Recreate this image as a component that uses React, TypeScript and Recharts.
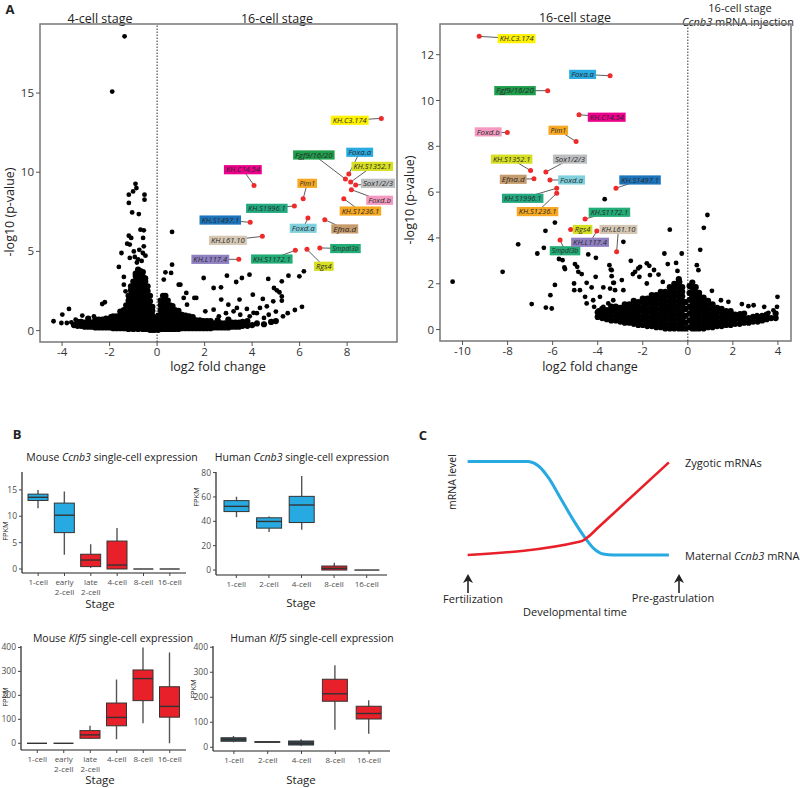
import React from 'react';
import {
  ScatterChart,
  Scatter,
  XAxis,
  YAxis,
  ReferenceLine,
  ReferenceArea,
  ComposedChart,
  Bar,
  LineChart,
  Line,
} from 'recharts';

const FONT = '"Open Sans", "Noto Sans", Arial, sans-serif';
const BLUE = '#27aae1';
const RED = '#e8202a';
const FLAT = '#555555';
const SLATE = '#2f4b57';

// ---------- Panel A: labelled genes ----------
const geneNames = [
  'KH.C3.174', 'Fgf9/16/20', 'Foxa.a', 'KH.S1352.1', 'Sox1/2/3', 'Foxd.b',
  'KH.S1236.1', 'Pim1', 'KH.C14.54', 'KH.S1996.1', 'Foxd.a', 'Efna.d',
  'KH.S1497.1', 'KH.L61.10', 'Smpdl3b', 'KH.S1172.1', 'Rgs4', 'KH.L117.4',
];
const geneColors = [
  '#fff200', '#1e9d4b', '#29abe2', '#d7df23', '#bcbec0', '#f49ac1',
  '#f7a823', '#f7a823', '#ec008c', '#22a97f', '#7fd1de', '#c69c6d',
  '#1c75bc', '#d5c7b3', '#22ad76', '#22ad76', '#d7df23', '#8f80c2',
];

// 4-cell vs 16-cell: highlighted genes (point, label position)
const leftHits: [number, number][] = [
  [9.44, 13.4], [7.93, 9.57], [8.07, 9.89], [8.15, 9.38], [8.36, 9.19], [8.18, 8.9],
  [7.86, 8.33], [6.15, 8.33], [4.08, 9.17], [5.78, 7.87], [6.35, 7.11], [7.06, 7.0],
  [3.92, 6.84], [4.43, 5.95], [6.85, 5.22], [5.82, 5.07], [6.31, 5.13], [3.44, 4.5],
];
const leftTags: [number, number][] = [
  [8.11, 13.28], [6.6, 11.09], [8.53, 11.26], [9.06, 10.37], [9.3, 9.3], [9.37, 8.23],
  [8.56, 7.55], [6.32, 9.3], [3.61, 10.16], [4.62, 7.72], [6.15, 6.46], [7.9, 6.42],
  [2.66, 6.98], [2.98, 5.7], [7.93, 5.18], [4.83, 4.52], [7.02, 4.06], [2.24, 4.5],
];

// 16-cell vs Ccnb3 injection: highlighted genes
const rightHits: [number, number][] = [
  [-9.26, 12.8], [-6.22, 10.43], [-3.45, 11.08], [-6.98, 6.94], [-6.3, 6.88], [-8.01, 8.6],
  [-5.82, 5.95], [-4.96, 8.21], [-4.83, 9.38], [-5.82, 6.17], [-6.12, 6.53], [-6.83, 6.58],
  [-3.19, 6.17], [-3.16, 3.4], [-5.67, 3.91], [-4.56, 4.83], [-5.2, 4.37], [-4.04, 4.3],
];
const rightTags: [number, number][] = [
  [-7.6, 12.7], [-7.67, 10.43], [-4.67, 11.14], [-7.82, 7.44], [-5.23, 7.44], [-8.86, 8.63],
  [-6.67, 5.15], [-5.75, 8.7], [-3.6, 9.27], [-7.33, 5.73], [-5.16, 6.53], [-7.75, 6.56],
  [-2.12, 6.53], [-3.08, 4.37], [-5.45, 3.44], [-3.48, 5.12], [-4.67, 4.37], [-4.34, 3.81],
];

// other genes, scattered points
const leftOutliers: [number, number][] = [
  [-1.37, 18.58], [-1.89, 15.09],
  [-0.91, 9.27], [-0.87, 9.0], [-1.01, 8.79], [-1.19, 8.58], [-0.53, 8.58], [-0.53, 8.27],
  [-1.19, 8.06], [-1.05, 7.46], [-0.77, 7.36], [-0.7, 6.37], [-0.56, 6.33], [-0.59, 5.85],
  [-1.19, 5.99], [-1.09, 5.85], [-1.15, 5.43], [-1.26, 5.49], [-1.5, 4.9], [-1.61, 4.02],
  [-1.4, 3.39], [-1.4, 2.9], [-1.33, 2.48], [-1.15, 4.59], [-0.98, 5.0], [-0.94, 4.65],
  [-0.56, 5.32], [-0.49, 4.73], [-0.8, 4.5], [-0.65, 4.4], [-0.75, 5.1], [-0.6, 4.9], [-0.85, 4.3],
  [-2.31, 1.68], [-2.2, 1.79], [-3.71, 1.37], [-3.99, 1.01], [-4.36, 0.59], [-4.03, 0.48],
  [-3.8, 0.48], [-3.61, 0.52], [-3.43, 0.69], [-3.15, 0.95], [-2.66, 0.9], [-1.96, 0.9],
  [0.63, 6.23], [0.63, 4.16], [0.35, 3.68], [0.59, 3.64], [0.28, 3.22], [0.91, 2.9],
  [1.65, 2.06], [1.26, 1.64], [1.57, 2.06], [1.12, 2.06], [0.98, 2.9], [1.23, 2.38],
  [1.96, 3.32], [2.94, 3.47], [3.33, 3.07], [3.57, 3.32], [3.89, 3.53], [2.38, 2.69],
  [2.69, 2.73], [2.7, 1.96], [3.47, 1.96], [4.03, 2.27], [4.68, 3.26], [5.25, 3.11],
  [5.53, 3.47], [5.99, 3.43], [6.18, 3.74], [4.92, 2.69], [5.04, 2.54], [5.15, 2.42],
  [5.25, 2.16], [4.89, 1.85], [5.25, 1.89], [4.45, 2.0], [4.33, 1.43], [4.06, 1.12],
  [4.62, 1.53], [3.0, 1.64], [3.22, 1.22], [3.36, 1.43], [3.78, 1.37], [2.38, 1.32],
  [2.03, 1.22], [3.9, 0.9], [4.2, 1.1], [4.5, 0.8], [4.7, 1.0], [5.0, 1.2], [5.3, 0.9],
  [5.5, 1.1], [5.8, 1.3], [6.1, 1.5], [3.5, 1.0], [2.9, 1.1], [2.6, 0.9],
];

// dense mass of genes near the origin, read column by column
const leftMassColumns: [number, number[]][] = [
  [-3.5, [0.35]], [-3.35, [0.3, 0.55]], [-3.2, [0.3, 0.55]], [-3.05, [0.25, 0.5]],
  [-2.9, [0.25, 0.5, 0.75]], [-2.75, [0.25, 0.5]], [-2.6, [0.2, 0.45, 0.7]],
  [-2.45, [0.2, 0.45, 0.7]], [-2.3, [0.2, 0.45, 0.7]], [-2.15, [0.2, 0.45, 0.75]],
  [-2.0, [0.2, 0.45, 0.7]], [-1.85, [0.15, 0.4, 0.65, 0.9]], [-1.7, [0.15, 0.4, 0.65, 0.9]],
  [-1.55, [0.15, 0.4, 0.65, 0.9, 1.2]], [-1.4, [0.15, 0.4, 0.7, 1.0, 1.3]],
  [-1.3, [0.15, 0.45, 0.75, 1.05, 1.35, 1.6]],
  [-1.2, [0.1, 0.4, 0.7, 1.0, 1.3, 1.6, 1.9, 2.2]],
  [-1.1, [0.15, 0.45, 0.75, 1.05, 1.35, 1.65, 1.95, 2.25, 2.55, 2.8]],
  [-1.0, [0.1, 0.4, 0.7, 1.0, 1.3, 1.6, 1.9, 2.2, 2.5, 2.8, 3.1]],
  [-0.9, [0.15, 0.45, 0.75, 1.05, 1.35, 1.65, 1.95, 2.25, 2.55, 2.85, 3.15, 3.45, 3.6]],
  [-0.8, [0.1, 0.4, 0.7, 1.0, 1.3, 1.6, 1.9, 2.2, 2.5, 2.8, 3.1, 3.4, 3.7, 3.85]],
  [-0.7, [0.15, 0.45, 0.75, 1.05, 1.35, 1.65, 1.95, 2.25, 2.55, 2.85, 3.15, 3.45, 3.75]],
  [-0.6, [0.1, 0.4, 0.7, 1.0, 1.3, 1.6, 1.9, 2.2, 2.5, 2.8, 3.1, 3.4, 3.7]],
  [-0.5, [0.1, 0.4, 0.7, 1.0, 1.3, 1.6, 1.9, 2.2, 2.5, 2.8, 3.1, 3.3]],
  [-0.4, [0.1, 0.4, 0.7, 1.0, 1.3, 1.6, 1.9, 2.2, 2.5, 2.8]],
  [-0.3, [0.05, 0.35, 0.65, 0.95, 1.25, 1.55, 1.85, 2.2]],
  [-0.2, [0.05, 0.35, 0.65, 0.95, 1.25, 1.5]],
  [-0.1, [0.05, 0.3, 0.55, 0.8]],
  [0.05, [0.05, 0.35, 0.65, 0.95]],
  [0.15, [0.1, 0.4, 0.7, 1.0, 1.3, 1.6, 1.9]],
  [0.25, [0.1, 0.4, 0.7, 1.0, 1.3, 1.6, 1.9, 2.2]],
  [0.35, [0.1, 0.4, 0.7, 1.0, 1.3, 1.6, 1.9, 2.2]],
  [0.45, [0.1, 0.4, 0.7, 1.0, 1.3, 1.6, 1.9]],
  [0.55, [0.1, 0.4, 0.7, 1.0, 1.3, 1.6]],
  [0.65, [0.1, 0.4, 0.7, 1.0, 1.3, 1.55]],
  [0.75, [0.1, 0.4, 0.7, 1.0, 1.3]],
  [0.9, [0.1, 0.4, 0.7, 1.0, 1.25]],
  [1.05, [0.15, 0.4, 0.7, 1.0]],
  [1.2, [0.15, 0.4, 0.7, 0.95]],
  [1.35, [0.15, 0.4, 0.7, 0.9]],
  [1.5, [0.15, 0.4, 0.65, 0.85]],
  [1.65, [0.15, 0.4, 0.65]], [1.8, [0.15, 0.4, 0.65]], [1.95, [0.15, 0.4, 0.6]],
  [2.1, [0.15, 0.4, 0.6]], [2.25, [0.15, 0.4, 0.6]], [2.4, [0.2, 0.45]],
  [2.55, [0.2, 0.45, 0.65]], [2.7, [0.2, 0.45]], [2.85, [0.2, 0.45]], [3.0, [0.2, 0.45, 0.7]],
  [3.15, [0.25, 0.5]], [3.3, [0.25, 0.5]], [3.45, [0.25, 0.5]], [3.6, [0.3, 0.55]],
  [3.8, [0.3, 0.6]], [4.0, [0.35]], [4.2, [0.45]], [4.5, [0.4]], [4.8, [0.55]], [5.0, [0.6]],
];

const rightOutliers: [number, number][] = [
  [-10.44, 2.09], [-8.22, 2.52], [-6.93, 1.11], [-7.53, 3.72], [-6.68, 3.32], [-6.39, 3.57],
  [-6.32, 4.31], [-5.9, 4.67], [-5.9, 1.95], [-6.1, 1.5], [-6.3, 0.96], [-6.04, 0.92],
  [-3.69, 5.69], [-2.86, 3.83], [-0.8, 4.36], [-1.04, 3.32], [0.87, 5.0], [0.71, 4.44],
  [0.55, 3.48], [-5.72, 3.08], [-5.56, 3.03], [-5.48, 2.71], [-5.45, 2.64], [-5.01, 2.86],
  [-4.91, 2.74], [-4.86, 2.52], [-4.71, 2.42], [-4.42, 3.28], [-4.08, 3.13], [-4.49, 2.04],
  [-5.05, 2.01], [-5.04, 1.72], [-4.79, 1.72], [-4.56, 1.43], [-4.27, 1.84], [-4.09, 2.3],
  [-3.9, 1.43], [-3.75, 1.84], [-3.48, 2.81], [-3.42, 2.62], [-3.38, 2.33], [-3.31, 2.04],
  [-3.23, 1.72], [-4.49, 1.14], [-4.2, 1.28], [-4.16, 0.99], [-3.97, 0.84], [-3.75, 0.99],
  [-3.53, 1.14], [-3.6, 0.77], [-3.31, 1.28], [-3.16, 0.84], [-0.27, 3.32], [-2.53, 3.0],
  [-1.71, 2.78], [-0.89, 2.86], [-0.52, 2.91], [0.4, 2.81], [0.47, 2.59], [-3.38, 2.59],
  [-2.2, 2.67], [-2.34, 2.52], [-2.44, 2.42], [-2.15, 2.3], [-1.68, 2.38], [-1.11, 2.08],
  [-0.46, 2.56], [-0.34, 2.08], [-3.28, 2.04], [-2.93, 2.16], [-3.45, 1.79], [-2.86, 1.72],
  [-1.82, 2.01], [-2.12, 2.74], [-1.82, 2.89], [-1.5, 2.6], [-1.3, 2.4], [1.07, 1.69],
  [1.47, 1.28], [1.8, 1.21], [2.4, 1.11], [2.69, 1.02], [2.92, 1.06], [3.39, 0.99],
  [3.98, 1.43], [3.96, 0.99], [3.8, 0.84], [3.58, 0.73], [3.07, 0.63], [2.32, 0.7], [1.73, 0.7],
];

const rightMassColumns: [number, number[]][] = [
  [-4.0, [0.55, 0.75]], [-3.8, [0.5, 0.7, 0.9]], [-3.6, [0.45, 0.65, 0.85]],
  [-3.4, [0.4, 0.6, 0.8, 1.0]], [-3.2, [0.4, 0.6, 0.8, 1.0]], [-3.0, [0.35, 0.55, 0.75, 0.95]],
  [-2.8, [0.3, 0.5, 0.7, 0.9, 1.1]], [-2.6, [0.3, 0.5, 0.7, 0.9, 1.1]],
  [-2.4, [0.25, 0.45, 0.65, 0.85, 1.05, 1.25]], [-2.2, [0.2, 0.4, 0.6, 0.8, 1.0, 1.2]],
  [-2.0, [0.2, 0.4, 0.6, 0.8, 1.0, 1.2, 1.35]],
  [-1.8, [0.15, 0.35, 0.55, 0.75, 0.95, 1.15, 1.35]],
  [-1.6, [0.15, 0.35, 0.55, 0.75, 0.95, 1.15, 1.35, 1.5]],
  [-1.4, [0.1, 0.3, 0.5, 0.7, 0.9, 1.1, 1.3, 1.5]],
  [-1.2, [0.1, 0.3, 0.5, 0.7, 0.9, 1.1, 1.3, 1.5, 1.65]],
  [-1.0, [0.05, 0.25, 0.45, 0.65, 0.85, 1.05, 1.25, 1.45, 1.65]],
  [-0.8, [0.05, 0.25, 0.45, 0.65, 0.85, 1.05, 1.25, 1.45, 1.65, 1.85]],
  [-0.6, [0.05, 0.25, 0.45, 0.65, 0.85, 1.05, 1.25, 1.45, 1.65, 1.85, 2.0]],
  [-0.4, [0.05, 0.25, 0.45, 0.65, 0.85, 1.05, 1.25, 1.45, 1.65, 1.85, 2.05, 2.2]],
  [-0.25, [0.05, 0.25, 0.45, 0.65, 0.85, 1.05, 1.25, 1.45, 1.65, 1.85]],
  [-0.1, [0.05, 0.3, 0.6, 0.9, 1.2]],
  [0.08, [0.1, 0.4, 0.7, 1.0, 1.3, 1.6, 1.9]],
  [0.2, [0.05, 0.25, 0.45, 0.65, 0.85, 1.05, 1.25, 1.45, 1.65, 1.85, 2.05]],
  [0.35, [0.05, 0.25, 0.45, 0.65, 0.85, 1.05, 1.25, 1.45, 1.65, 1.85]],
  [0.5, [0.05, 0.25, 0.45, 0.65, 0.85, 1.05, 1.25, 1.45, 1.6]],
  [0.7, [0.05, 0.25, 0.45, 0.65, 0.85, 1.05, 1.25, 1.4]],
  [0.9, [0.1, 0.3, 0.5, 0.7, 0.9, 1.1, 1.25]],
  [1.1, [0.1, 0.3, 0.5, 0.7, 0.9, 1.1]],
  [1.3, [0.15, 0.35, 0.55, 0.75, 0.95]], [1.5, [0.15, 0.35, 0.55, 0.75, 0.9]],
  [1.7, [0.2, 0.4, 0.6, 0.8]], [1.9, [0.2, 0.4, 0.6, 0.8]], [2.1, [0.25, 0.45, 0.65]],
  [2.3, [0.25, 0.45, 0.65]], [2.5, [0.3, 0.5, 0.7]], [2.7, [0.3, 0.5]], [2.9, [0.35, 0.55]],
  [3.1, [0.35, 0.55]], [3.3, [0.4, 0.6]], [3.5, [0.45, 0.65]], [3.7, [0.5]], [3.9, [0.5, 0.7]],
];

// ---------- Panel B: single-cell expression boxplots ----------
const mouseStages = ['1-cell', 'early\n2-cell', 'late\n2-cell', '4-cell', '8-cell', '16-cell'];
const humanStages = ['1-cell', '2-cell', '4-cell', '8-cell', '16-cell'];

const mouseCcnb3Low = [11.5, 2.7, 0.2, 0, 0, 0];
const mouseCcnb3Q1 = [13.0, 6.9, 0.45, 0, 0, 0];
const mouseCcnb3Median = [13.6, 10.2, 1.7, 0.75, 0, 0];
const mouseCcnb3Q3 = [14.2, 12.5, 2.8, 5.3, 0, 0];
const mouseCcnb3High = [15.0, 14.7, 4.7, 7.8, 0, 0];

const humanCcnb3Low = [43.4, 31.2, 33, 0, 0];
const humanCcnb3Q1 = [48, 34.4, 39, 0, 0];
const humanCcnb3Median = [52.3, 39.9, 53.4, 1.4, 0];
const humanCcnb3Q3 = [57, 42.9, 60.5, 3.3, 0];
const humanCcnb3High = [60.2, 44, 77.3, 6, 0];

const mouseKlf5Low = [0, 0, 18, 17, 84, 0];
const mouseKlf5Q1 = [0, 0, 21, 73, 178, 109];
const mouseKlf5Median = [0, 0, 35, 108, 270, 154];
const mouseKlf5Q3 = [0, 0, 53, 168, 306, 236];
const mouseKlf5High = [0, 0, 73, 266, 400, 379];

const humanKlf5Low = [20, 20, 5, 70, 54];
const humanKlf5Q1 = [24, 20, 9, 184, 113];
const humanKlf5Median = [31, 21, 16, 214, 135];
const humanKlf5Q3 = [38, 22, 25, 272, 164];
const humanKlf5High = [45, 22, 32, 328, 188];

const mouseCcnb3Fill = [BLUE, BLUE, RED, RED, FLAT, FLAT];
const humanCcnb3Fill = [BLUE, BLUE, BLUE, RED, FLAT];
const mouseKlf5Fill = [FLAT, FLAT, RED, RED, RED, RED];
const humanKlf5Fill = [SLATE, SLATE, SLATE, RED, RED];

// ---------- Panel C: schematic mRNA levels over developmental time ----------
const maternalTime = [0, 30, 33, 35.5, 40.3, 46.6, 53, 58.5, 62.6, 67.3, 72.5, 100];
const maternalLevel = [77.2, 77.2, 76, 73.6, 65.4, 50.1, 34.8, 23.1, 16, 12, 11.3, 11.3];
const zygoticTime = [0, 56, 60, 65, 100];
const zygoticLevel = [11.3, 20.7, 24.2, 30.8, 76.5];

// ---------- helpers ----------
const toPoints = (pairs: [number, number][]) => pairs.map(([x, y]) => ({ x, y }));
const columnsToPoints = (cols: [number, number[]][]) =>
  cols.flatMap(([x, ys]) => ys.map((y) => ({ x, y })));

const BlackDot = (p: any) => <circle cx={p.cx} cy={p.cy} r={2.4} fill="#000" />;
const MassDot = (p: any) => <circle cx={p.cx} cy={p.cy} r={3.1} fill="#000" />;
const RedDot = (p: any) => <circle cx={p.cx} cy={p.cy} r={2.5} fill="#ee2a2a" />;
const NoDot = () => <g />;

const TagShape = (p: any) => {
  const { cx, cy, payload } = p;
  const w = payload.name.length * 3.65 + 5;
  return (
    <g>
      <rect x={cx - w / 2} y={cy - 4.6} width={w} height={9.2} fill={payload.color} />
      <text
        x={cx}
        y={cy + 2.7}
        textAnchor="middle"
        fontSize={7.6}
        fontStyle="italic"
        fill="#2a2a2a"
        fontFamily={FONT}
        textLength={w - 4}
        lengthAdjust="spacingAndGlyphs"
      >
        {payload.name}
      </text>
    </g>
  );
};

function Txt({
  x, y, children, size = 12, anchor = 'middle', rotate = 0, weight = 400, color = '#222',
}: {
  x: number; y: number; children: React.ReactNode; size?: number;
  anchor?: 'middle' | 'start'; rotate?: number; weight?: number; color?: string;
}) {
  const tx = anchor === 'middle' ? '-50%' : '0';
  return (
    <div
      style={{
        position: 'absolute',
        left: x,
        top: y,
        transform: `translate(${tx}, -50%) rotate(${rotate}deg)`,
        transformOrigin: anchor === 'middle' ? 'center' : 'left center',
        fontSize: size,
        fontWeight: weight,
        color,
        fontFamily: FONT,
        whiteSpace: 'nowrap',
        lineHeight: 1,
      }}
    >
      {children}
    </div>
  );
}

interface VolcanoProps {
  left: number;
  outliers: [number, number][];
  mass: [number, number[]][];
  hits: [number, number][];
  tags: [number, number][];
  xDomain: [number, number];
  yDomain: [number, number];
  xTicks: number[];
  yTicks: number[];
  margin: { top: number; right: number; bottom: number; left: number };
}

function Volcano({ left, outliers, mass, hits, tags, xDomain, yDomain, xTicks, yTicks, margin }: VolcanoProps) {
  const massData = columnsToPoints(mass);
  const dots = toPoints(outliers);
  const hitData = toPoints(hits);
  const tagData = tags.map(([x, y], i) => ({ x, y, name: geneNames[i], color: geneColors[i] }));
  const tickStyle = { fontSize: 11.5, fill: '#333', fontFamily: FONT };
  return (
    <div style={{ position: 'absolute', left, top: 0 }}>
      <ScatterChart width={400} height={380} margin={margin}>
        <XAxis
          type="number"
          dataKey="x"
          domain={xDomain}
          ticks={xTicks}
          interval={0}
          allowDataOverflow
          axisLine={false}
          tickLine={{ stroke: '#555' }}
          tickSize={4}
          tick={tickStyle}
          height={25}
        />
        <YAxis
          type="number"
          dataKey="y"
          domain={yDomain}
          ticks={yTicks}
          interval={0}
          allowDataOverflow
          axisLine={false}
          tickLine={{ stroke: '#555' }}
          tickSize={4}
          tick={tickStyle}
          width={30}
        />
        <ReferenceArea
          x1={xDomain[0]}
          x2={xDomain[1]}
          y1={yDomain[0]}
          y2={yDomain[1]}
          fill="none"
          fillOpacity={0}
          stroke="#777"
          strokeWidth={1.5}
        />
        <ReferenceLine x={0} stroke="#333" strokeDasharray="1.5 1.5" />
        <Scatter data={massData} shape={MassDot} isAnimationActive={false} />
        <Scatter data={dots} shape={BlackDot} isAnimationActive={false} />
        {hits.map((h, i) => (
          <Scatter
            key={geneNames[i]}
            data={[{ x: h[0], y: h[1] }, { x: tags[i][0], y: tags[i][1] }]}
            line={{ stroke: '#333', strokeWidth: 0.8 }}
            shape={NoDot}
            isAnimationActive={false}
          />
        ))}
        <Scatter data={hitData} shape={RedDot} isAnimationActive={false} />
        <Scatter data={tagData} shape={TagShape} isAnimationActive={false} />
      </ScatterChart>
    </div>
  );
}

const StageTick = (p: any) => {
  const lines = String(p.payload.value).split('\n');
  return (
    <text x={p.x} y={p.y + 7} textAnchor="middle" fontSize={8} fill="#4d4d4d" fontFamily={FONT}>
      {lines.map((l, i) => (
        <tspan key={i} x={p.x} dy={i === 0 ? 0 : 9.6}>
          {l}
        </tspan>
      ))}
    </text>
  );
};

const boxShape = (domain: [number, number]) => (p: any) => {
  const { x, width, payload, background } = p;
  const [d0, d1] = domain;
  const py = (v: number) => background.y + (background.height * (d1 - v)) / (d1 - d0);
  const cx = x + width / 2;
  const yTop = py(payload.q3);
  const yBot = py(payload.q1);
  return (
    <g>
      <line x1={cx} x2={cx} y1={py(payload.hi)} y2={yTop} stroke="#555" strokeWidth={1.4} />
      <line x1={cx} x2={cx} y1={yBot} y2={py(payload.lo)} stroke="#555" strokeWidth={1.4} />
      <rect x={x} y={yTop} width={width} height={Math.max(yBot - yTop, 0)} fill={payload.color} stroke="#333" strokeWidth={1} />
      <line x1={x} x2={x + width} y1={py(payload.med)} y2={py(payload.med)} stroke="#333" strokeWidth={1.4} />
    </g>
  );
};

interface BoxProps {
  left: number;
  top: number;
  width: number;
  height: number;
  margin: { top: number; right: number; bottom: number; left: number };
  yWidth: number;
  stages: string[];
  lo: number[];
  q1: number[];
  med: number[];
  q3: number[];
  hi: number[];
  fills: string[];
  domain: [number, number];
  ticks: number[];
  barSize: number;
  pad: number;
}

function BoxPanel({ left, top, width, height, margin, yWidth, stages, lo, q1, med, q3, hi, fills, domain, ticks, barSize, pad }: BoxProps) {
  const data = stages.map((stage, i) => ({
    stage, lo: lo[i], q1: q1[i], med: med[i], q3: q3[i], hi: hi[i], color: fills[i],
  }));
  const axisLine = { stroke: '#222', strokeWidth: 1.2 };
  return (
    <div style={{ position: 'absolute', left, top }}>
      <ComposedChart width={width} height={height} margin={margin} data={data}>
        <XAxis
          dataKey="stage"
          type="category"
          interval={0}
          padding={{ left: pad, right: pad }}
          axisLine={axisLine}
          tickLine={{ stroke: '#444' }}
          tickSize={3}
          tick={StageTick}
          height={30}
        />
        <YAxis
          type="number"
          domain={domain}
          ticks={ticks}
          interval={0}
          allowDataOverflow
          axisLine={axisLine}
          tickLine={{ stroke: '#444' }}
          tickSize={3}
          tick={{ fontSize: 8.5, fill: '#4d4d4d', fontFamily: FONT }}
          width={yWidth}
        />
        <Bar dataKey="hi" barSize={barSize} shape={boxShape(domain)} isAnimationActive={false} />
      </ComposedChart>
    </div>
  );
}

function Arrow({ x, y }: { x: number; y: number }) {
  return (
    <svg style={{ position: 'absolute', left: x - 6, top: y }} width={12} height={20}>
      <polygon points="6,0 1,9 6,6.5 11,9" fill="#222" />
      <line x1={6} x2={6} y1={6} y2={19} stroke="#222" strokeWidth={1.6} />
    </svg>
  );
}

export default function App() {
  const maternal = maternalTime.map((t, i) => ({ t, v: maternalLevel[i] }));
  const zygotic = zygoticTime.map((t, i) => ({ t, v: zygoticLevel[i] }));
  const cAxis = { stroke: '#111', strokeWidth: 1.5 };

  return (
    <div
      style={{
        position: 'absolute',
        left: 0,
        top: 0,
        width: 800,
        height: 788,
        background: '#fff',
        overflow: 'hidden',
        fontFamily: FONT,
      }}
    >
      {/* ---- Panel A ---- */}
      <Txt x={10} y={9} size={13} weight={700}>A</Txt>
      <Txt x={100} y={19} size={12.5}>4-cell stage</Txt>
      <Txt x={277} y={19} size={12.5}>16-cell stage</Txt>
      <Txt x={575} y={18} size={12.5}>16-cell stage</Txt>
      <Txt x={740} y={7} size={11}>16-cell stage</Txt>
      <Txt x={738} y={21} size={11}>
        <i>Ccnb3</i> mRNA injection
      </Txt>

      <Volcano
        left={0}
        outliers={leftOutliers}
        mass={leftMassColumns}
        hits={leftHits}
        tags={leftTags}
        xDomain={[-4.93, 10.1]}
        yDomain={[-0.72, 19.36]}
        xTicks={[-4, -2, 0, 2, 4, 6, 8]}
        yTicks={[0, 5, 10, 15]}
        margin={{ top: 24, right: 3, bottom: 13, left: 10 }}
      />
      <Volcano
        left={400}
        outliers={rightOutliers}
        mass={rightMassColumns}
        hits={rightHits}
        tags={rightTags}
        xDomain={[-11.0, 4.58]}
        yDomain={[-0.5, 13.34]}
        xTicks={[-10, -8, -6, -4, -2, 0, 2, 4]}
        yTicks={[0, 2, 4, 6, 8, 10, 12]}
        margin={{ top: 24, right: 9, bottom: 14, left: 10 }}
      />
      <Txt x={218} y={367} size={12.5}>log2 fold change</Txt>
      <Txt x={590} y={367} size={12.5}>log2 fold change</Txt>
      <Txt x={10} y={212} size={12.5} rotate={-90}>-log10 (p-value)</Txt>
      <Txt x={410} y={200} size={12.5} rotate={-90}>-log10 (p-value)</Txt>

      {/* ---- Panel B ---- */}
      <Txt x={17} y={434} size={13} weight={700}>B</Txt>
      <Txt x={112} y={457} size={10.5}>
        Mouse <i>Ccnb3</i> single-cell expression
      </Txt>
      <Txt x={302} y={457} size={10.5}>
        Human <i>Ccnb3</i> single-cell expression
      </Txt>
      <Txt x={113} y={638} size={10.5}>
        Mouse <i>Klf5</i> single-cell expression
      </Txt>
      <Txt x={312} y={638} size={10.5}>
        Human <i>Klf5</i> single-cell expression
      </Txt>

      <BoxPanel
        left={0}
        top={440}
        width={200}
        height={180}
        margin={{ top: 32, right: 14, bottom: 17, left: 4 }}
        yWidth={18}
        stages={mouseStages}
        lo={mouseCcnb3Low}
        q1={mouseCcnb3Q1}
        med={mouseCcnb3Median}
        q3={mouseCcnb3Q3}
        hi={mouseCcnb3High}
        fills={mouseCcnb3Fill}
        domain={[-0.76, 18.4]}
        ticks={[0, 5, 10, 15]}
        barSize={20}
        pad={3}
      />
      <BoxPanel
        left={190}
        top={440}
        width={205}
        height={180}
        margin={{ top: 32, right: 8, bottom: 15, left: 3 }}
        yWidth={23}
        stages={humanStages}
        lo={humanCcnb3Low}
        q1={humanCcnb3Q1}
        med={humanCcnb3Median}
        q3={humanCcnb3Q3}
        hi={humanCcnb3High}
        fills={humanCcnb3Fill}
        domain={[-4.07, 80.5]}
        ticks={[0, 20, 40, 60, 80]}
        barSize={25}
        pad={4}
      />
      <BoxPanel
        left={0}
        top={620}
        width={200}
        height={168}
        margin={{ top: 26, right: 14, bottom: 8, left: 0 }}
        yWidth={21}
        stages={mouseStages}
        lo={mouseKlf5Low}
        q1={mouseKlf5Q1}
        med={mouseKlf5Median}
        q3={mouseKlf5Q3}
        hi={mouseKlf5High}
        fills={mouseKlf5Fill}
        domain={[-28, 406]}
        ticks={[0, 100, 200, 300, 400]}
        barSize={20}
        pad={3}
      />
      <BoxPanel
        left={188}
        top={620}
        width={207}
        height={168}
        margin={{ top: 26, right: 5, bottom: 7, left: 0 }}
        yWidth={25}
        stages={humanStages}
        lo={humanKlf5Low}
        q1={humanKlf5Q1}
        med={humanKlf5Median}
        q3={humanKlf5Q3}
        hi={humanKlf5High}
        fills={humanKlf5Fill}
        domain={[-15, 405]}
        ticks={[0, 100, 200, 300, 400]}
        barSize={25}
        pad={4}
      />
      <Txt x={6} y={531} size={7.5} rotate={-90}>FPKM</Txt>
      <Txt x={197} y={497} size={7.5} rotate={-90}>FPKM</Txt>
      <Txt x={6} y={697} size={7.5} rotate={-90}>FPKM</Txt>
      <Txt x={194} y={689} size={7.5} rotate={-90}>FPKM</Txt>
      <Txt x={100} y={604} size={11.5}>Stage</Txt>
      <Txt x={301} y={603} size={11.5}>Stage</Txt>
      <Txt x={100} y={780} size={11.5}>Stage</Txt>
      <Txt x={301} y={780} size={11.5}>Stage</Txt>

      {/* ---- Panel C ---- */}
      <Txt x={423} y={435} size={13} weight={700}>C</Txt>
      <div style={{ position: 'absolute', left: 400, top: 400 }}>
        <LineChart width={300} height={200} margin={{ top: 29, right: 17, bottom: 29, left: 59 }}>
          <XAxis
            type="number"
            dataKey="t"
            domain={[-4.3, 107]}
            allowDataOverflow
            tick={false}
            tickLine={false}
            axisLine={cAxis}
            height={0}
          />
          <YAxis
            type="number"
            dataKey="v"
            domain={[0, 100]}
            allowDataOverflow
            tick={false}
            tickLine={false}
            axisLine={cAxis}
            width={0}
          />
          <Line data={maternal} dataKey="v" type="monotone" stroke={BLUE} strokeWidth={3} dot={false} isAnimationActive={false} />
          <Line data={zygotic} dataKey="v" type="monotone" stroke={RED} strokeWidth={2.6} dot={false} isAnimationActive={false} />
        </LineChart>
      </div>
      <Txt x={685} y={462} size={11} anchor="start">Zygotic mRNAs</Txt>
      <Txt x={685} y={555} size={11} anchor="start">
        Maternal <i>Ccnb3</i> mRNA
      </Txt>
      <Txt x={452} y={482} size={10.5} rotate={-90}>mRNA level</Txt>
      <Arrow x={468} y={574} />
      <Arrow x={679} y={574} />
      <Txt x={473} y={598} size={11}>Fertilization</Txt>
      <Txt x={673} y={597} size={11}>Pre-gastrulation</Txt>
      <Txt x={575} y={611} size={11}>Developmental time</Txt>
    </div>
  );
}
